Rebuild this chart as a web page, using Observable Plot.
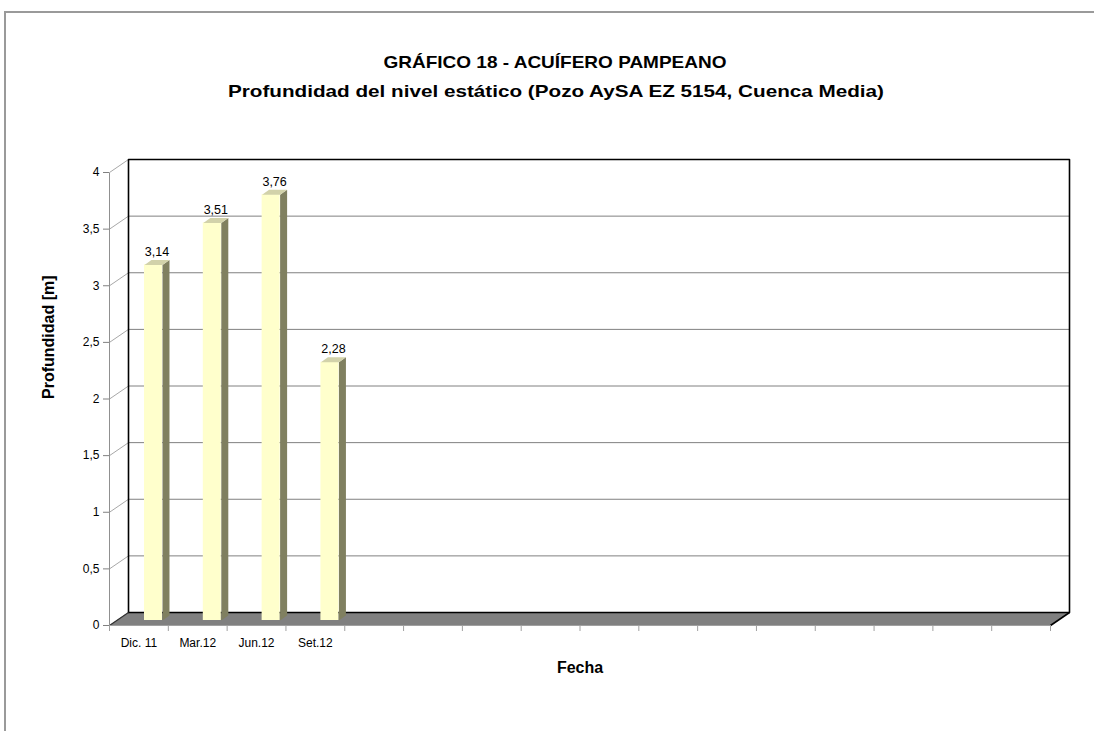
<!DOCTYPE html>
<html><head><meta charset="utf-8">
<script src="https://cdn.jsdelivr.net/npm/d3@7"></script>
<script src="https://cdn.jsdelivr.net/npm/@observablehq/plot@0.6"></script>
<style>
body{margin:0;background:#fff;width:1094px;height:731px;overflow:hidden;position:relative;font-family:"Liberation Sans",Arial,sans-serif}
#frame{position:absolute;left:4px;top:11px;width:2000px;height:2000px;border-left:2px solid #9a9a9a;border-top:2px solid #9a9a9a}
#titles{position:absolute;left:0;top:0}
#chart{position:absolute;left:0;top:0}
</style></head><body>
<div id="frame"></div>
<div id="chart"></div>
<svg id="titles" width="1094" height="110"></svg>
<script>
// ---- data ----
const title = "GRÁFICO 18 - ACUÍFERO PAMPEANO";
const subtitle = "Profundidad del nivel estático (Pozo AySA EZ 5154, Cuenca Media)";
const yLabel = "Profundidad [m]";
const xLabel = "Fecha";
const fechas = ["Dic. 11", "Mar.12", "Jun.12", "Set.12"];
const profundidad = [3.14, 3.51, 3.76, 2.28];
const emptySlots = 12;               // category slots with no data
const yTicks = [0, 0.5, 1, 1.5, 2, 2.5, 3, 3.5, 4];

// ---- layout ----
const W = 1094, H = 731, ml = 109, mr = 44, mt = 172, mb = 106;
const nSlots = fechas.length + emptySlots;
const yMax = yTicks[yTicks.length - 1];
const ux = (W - ml - mr) / nSlots;   // px per slot
const uy = (H - mt - mb) / yMax;     // px per metre
const wDX = 19 / ux, wDY = 13 / uy;  // wall depth in data units
const bOX = 7 / ux, bOY = 5 / uy;    // bar front-face offset
const bDX = 7 / ux, bDY = 5 / uy;    // bar depth
const b0 = 0.476, b1 = 0.782;        // bar face within slot
const fmt = d => String(d).replace(".", ",");

const bars = fechas.map((f, i) => ({i, f, v: profundidad[i]}));

const floor = [
  {x: 0, y: 0}, {x: nSlots, y: 0}, {x: nSlots + wDX, y: wDY}, {x: wDX, y: wDY}
];
const wallFrame = [
  {x: wDX, y: wDY}, {x: wDX, y: yMax + wDY}, {x: nSlots + wDX, y: yMax + wDY}, {x: nSlots + wDX, y: wDY}
];
const sides = bars.flatMap(d => {
  const x2 = d.i + b1 + bOX;
  return [
    {id: d.i, x: x2, y: bOY}, {id: d.i, x: x2, y: d.v + bOY},
    {id: d.i, x: x2 + bDX, y: d.v + bOY + bDY}, {id: d.i, x: x2 + bDX, y: bOY + bDY}
  ];
});
const tops = bars.flatMap(d => {
  const x1 = d.i + b0 + bOX, x2 = d.i + b1 + bOX, y = d.v + bOY;
  return [
    {id: d.i, x: x1, y}, {id: d.i, x: x2, y},
    {id: d.i, x: x2 + bDX, y: y + bDY}, {id: d.i, x: x1 + bDX, y: y + bDY}
  ];
});

const chart = Plot.plot({
  width: W, height: H,
  marginLeft: ml, marginRight: mr, marginTop: mt, marginBottom: mb,
  x: {type: "linear", domain: [0, nSlots]},
  y: {type: "linear", domain: [0, yMax]},
  style: {fontFamily: "'Liberation Sans', Arial, sans-serif", fontSize: "11px", background: "transparent", overflow: "visible", color: "black"},
  marks: [
    // floor
    Plot.line(floor, {x: "x", y: "y", fill: "#808080", stroke: "none"}),
    // back wall grid
    Plot.link(yTicks.slice(1, -1), {x1: () => wDX, x2: () => nSlots + wDX, y1: d => d + wDY, y2: d => d + wDY, stroke: "#808080", strokeWidth: 1}),
    // side wall slanted grid
    Plot.link(yTicks, {x1: () => 0, x2: () => wDX, y1: d => d, y2: d => d + wDY, stroke: "#a8a8a8", strokeWidth: 1}),
    // back wall frame
    Plot.line(wallFrame, {x: "x", y: "y", stroke: "black", strokeWidth: 1.6}),
    Plot.link([0], {x1: () => wDX, x2: () => nSlots + wDX, y1: () => wDY, y2: () => wDY, stroke: "black", strokeWidth: 1.6}),
    Plot.link([0], {x1: () => nSlots, x2: () => nSlots + wDX, y1: () => 0, y2: () => wDY, stroke: "black", strokeWidth: 1.6}),
    Plot.link([0], {x1: () => 0, x2: () => wDX, y1: () => 0, y2: () => wDY, stroke: "#303030", strokeWidth: 1.3}),
    // front axes lines
    Plot.link([0], {x1: () => 0, x2: () => 0, y1: () => 0, y2: () => yMax, stroke: "#909090"}),
    Plot.link([0], {x1: () => 0, x2: () => nSlots, y1: () => 0, y2: () => 0, stroke: "#a0a0a0"}),
    // bars
    Plot.rect(bars, {x1: d => d.i + b0 + bOX, x2: d => d.i + b1 + bOX, y1: () => bOY, y2: d => d.v + bOY, fill: "#ffffcc", inset: 0}),
    Plot.line(sides, {x: "x", y: "y", z: "id", fill: "#808060", stroke: "none"}),
    Plot.line(tops, {x: "x", y: "y", z: "id", fill: "#d2d2aa", stroke: "none"}),
    // value labels
    Plot.text(bars, {x: d => d.i + (b0 + b1) / 2 + bOX + bDX / 2, y: d => d.v + bOY + bDY, text: d => fmt(d.v), dy: -8, fontSize: 12.5, fill: "black"}),
    // axes
    Plot.axisY({ticks: yTicks, tickFormat: fmt, tickSize: 6, tickPadding: 4, stroke: "#808080", fill: "black", label: null, fontSize: 12}),
    Plot.axisX({ticks: d3.range(nSlots + 1), tickFormat: () => "", tickSize: 6, stroke: "#a0a0a0", label: null}),
    Plot.axisX({ticks: bars.map(d => d.i + 0.5), tickFormat: x => fechas[Math.floor(x)], tickSize: 0, tickPadding: 13, fill: "black", label: null, fontSize: 12}),
    // axis titles
    Plot.text([yLabel], {text: d => d, frameAnchor: "left", dx: -61, rotate: -90, fontWeight: "bold", fontSize: 16, fill: "black"}),
    Plot.text([xLabel], {text: d => d, frameAnchor: "bottom", dy: 47, fontWeight: "bold", fontSize: 16, fill: "black"})
  ]
});
document.getElementById("chart").appendChild(chart);

// titles
const ts = d3.select("#titles");
ts.append("text").attr("x", 555).attr("y", 68).attr("text-anchor", "middle")
  .attr("font-family", "'Liberation Sans', Arial, sans-serif").attr("font-weight", "bold").attr("font-size", 17)
  .attr("textLength", 343).attr("lengthAdjust", "spacingAndGlyphs").text(title);
ts.append("text").attr("x", 556).attr("y", 97).attr("text-anchor", "middle")
  .attr("font-family", "'Liberation Sans', Arial, sans-serif").attr("font-weight", "bold").attr("font-size", 17)
  .attr("textLength", 656).attr("lengthAdjust", "spacingAndGlyphs").text(subtitle);
</script>
</body></html>
